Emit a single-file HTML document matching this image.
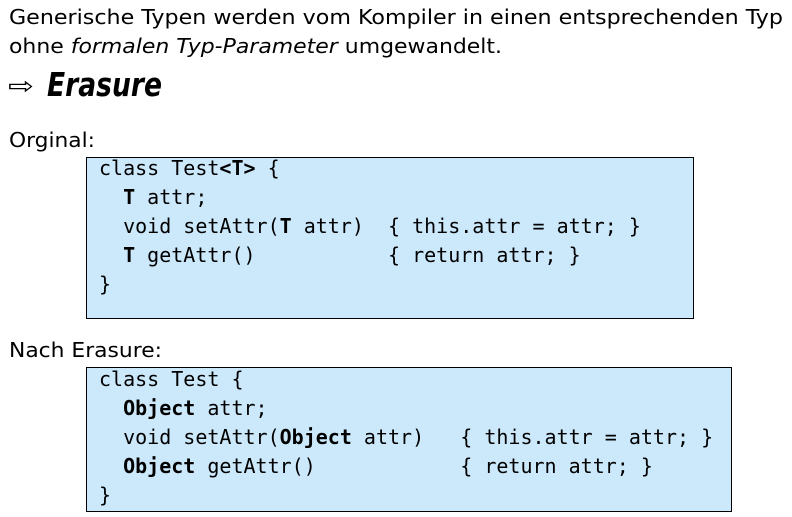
<!DOCTYPE html>
<html><head><meta charset="utf-8"><style>
html,body{margin:0;padding:0;background:#fff;width:792px;height:517px;overflow:hidden}
svg{display:block}
.t{font-family:"DejaVu Sans","Liberation Sans",sans-serif;font-size:20px;fill:#000}
.m{font-family:"DejaVu Sans Mono","Liberation Mono",monospace;font-size:20px;fill:#000;white-space:pre}
.b{font-weight:bold}
</style></head><body>
<svg width="792" height="517" viewBox="0 0 792 517" xmlns="http://www.w3.org/2000/svg">
<text class="t" x="9" y="24" textLength="774" lengthAdjust="spacingAndGlyphs">Generische Typen werden vom Kompiler in einen entsprechenden Typ</text>
<text class="t" x="9" y="53" textLength="493" lengthAdjust="spacingAndGlyphs">ohne <tspan font-style="italic">formalen Typ-Parameter</tspan> umgewandelt.</text>
<text class="t" x="8" y="94" style="font-size:24px" textLength="26" lengthAdjust="spacingAndGlyphs">⇨</text>
<text class="t" x="47" y="96" style="font-size:33px;font-weight:bold;font-style:italic" textLength="115" lengthAdjust="spacingAndGlyphs">Erasure</text>
<text class="t" x="9" y="147" textLength="86" lengthAdjust="spacingAndGlyphs">Orginal:</text>
<rect x="86.5" y="157.5" width="607" height="161" fill="#cce9fb" stroke="#000" stroke-width="1"/>
<text class="m" x="99" y="175" xml:space="preserve">class Test<tspan class="b">&lt;T&gt;</tspan> {</text>
<text class="m" x="99" y="204" xml:space="preserve">  <tspan class="b">T</tspan> attr;</text>
<text class="m" x="99" y="233" xml:space="preserve">  void setAttr(<tspan class="b">T</tspan> attr)  { this.attr = attr; }</text>
<text class="m" x="99" y="262" xml:space="preserve">  <tspan class="b">T</tspan> getAttr()           { return attr; }</text>
<text class="m" x="99" y="291" xml:space="preserve">}</text>
<text class="t" x="9" y="357" textLength="153" lengthAdjust="spacingAndGlyphs">Nach Erasure:</text>
<rect x="86.5" y="367.5" width="645" height="144" fill="#cce9fb" stroke="#000" stroke-width="1"/>
<text class="m" x="99" y="386" xml:space="preserve">class Test {</text>
<text class="m" x="99" y="415" xml:space="preserve">  <tspan class="b">Object</tspan> attr;</text>
<text class="m" x="99" y="444" xml:space="preserve">  void setAttr(<tspan class="b">Object</tspan> attr)   { this.attr = attr; }</text>
<text class="m" x="99" y="473" xml:space="preserve">  <tspan class="b">Object</tspan> getAttr()            { return attr; }</text>
<text class="m" x="99" y="502" xml:space="preserve">}</text>
</svg>
</body></html>
